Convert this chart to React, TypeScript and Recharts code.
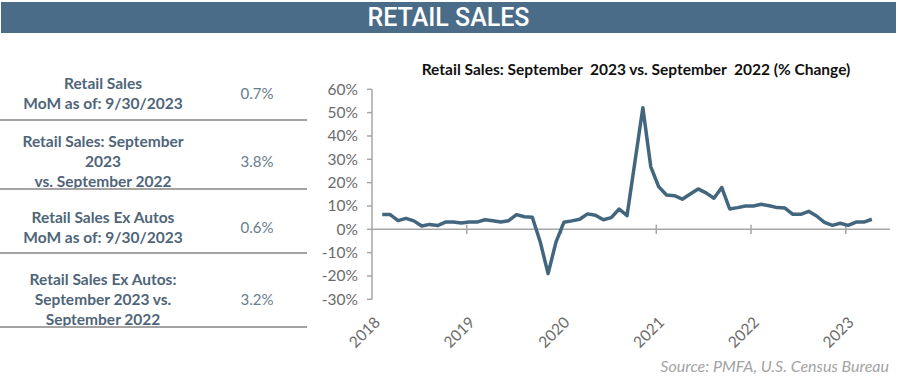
import React from 'react';
import { LineChart, Line, XAxis, YAxis, ReferenceLine } from 'recharts';

// Monthly YoY % change in retail sales, Jul 2018 - Sep 2023
const months = [
  'Jul-18','Aug-18','Sep-18','Oct-18','Nov-18','Dec-18',
  'Jan-19','Feb-19','Mar-19','Apr-19','May-19','Jun-19','Jul-19','Aug-19','Sep-19','Oct-19','Nov-19','Dec-19',
  'Jan-20','Feb-20','Mar-20','Apr-20','May-20','Jun-20','Jul-20','Aug-20','Sep-20','Oct-20','Nov-20','Dec-20',
  'Jan-21','Feb-21','Mar-21','Apr-21','May-21','Jun-21','Jul-21','Aug-21','Sep-21','Oct-21','Nov-21','Dec-21',
  'Jan-22','Feb-22','Mar-22','Apr-22','May-22','Jun-22','Jul-22','Aug-22','Sep-22','Oct-22','Nov-22','Dec-22',
  'Jan-23','Feb-23','Mar-23','Apr-23','May-23','Jun-23','Jul-23','Aug-23','Sep-23',
];
const yoyChange = [
  6.3, 6.3, 3.7, 4.7, 3.6, 1.4,
  2.1, 1.6, 3.1, 3.1, 2.7, 3.1, 3.1, 4.1, 3.7, 3.1, 3.7, 6.3,
  5.4, 5.2, -5.3, -19.0, -5.5, 3.0, 3.6, 4.3, 6.6, 6.0, 4.1, 5.0,
  8.7, 5.9, 29.0, 52.1, 26.9, 18.3, 14.7, 14.4, 12.9, 15.1, 17.3, 15.6,
  13.3, 17.9, 8.7, 9.3, 10.0, 10.0, 10.7, 10.1, 9.3, 9.1, 6.4, 6.4,
  7.7, 5.7, 3.0, 1.7, 2.6, 1.7, 3.1, 3.1, 4.3,
];
const yearLabels = ['2018', '2019', '2020', '2021', '2022', '2023'];
const yearTickPositions = [-1.3, 10.7, 22.7, 34.7, 46.7, 58.7];
const yTicks = [-30, -20, -10, 0, 10, 20, 30, 40, 50, 60];

const tableLabels = [
  ['Retail Sales', 'MoM as of: 9/30/2023'],
  ['Retail Sales: September', '2023', 'vs. September 2022'],
  ['Retail Sales Ex Autos', 'MoM as of: 9/30/2023'],
  ['Retail Sales Ex Autos:', 'September 2023 vs.', 'September 2022'],
];
const tableValues = ['0.7%', '3.8%', '0.6%', '3.2%'];

const data = yoyChange.map((v, i) => ({ idx: i, month: months[i], value: v }));

const rowCenters = [92.5, 161, 227, 299];
const separators = [119.5, 188.5, 253, 327];

const XTick = (props: any) => {
  const { x, y, payload } = props;
  const k = yearTickPositions.indexOf(payload.value);
  const label = k >= 0 ? yearLabels[k] : '';
  const ax = x + 9;
  const ay = y + 24;
  return (
    <text
      x={ax}
      y={ay}
      transform={`rotate(-45, ${ax}, ${ay})`}
      textAnchor="end"
      fill="#6b6b6b"
      fontSize={15.5}
      fontFamily="Lato"
    >
      {label}
    </text>
  );
};

export default function App() {
  return (
    <div style={{ position: 'absolute', left: 0, top: 0, width: 898, height: 379, background: '#fff', fontFamily: 'Lato' }}>
      <div
        style={{
          position: 'absolute', left: 1, top: 2, width: 895, height: 31,
          background: '#4a6c88', color: '#fff', textAlign: 'center',
          fontFamily: 'Roboto', fontWeight: 500, fontSize: 25, lineHeight: '31px',
        }}
      >
        RETAIL SALES
      </div>

      {tableLabels.map((lines, r) => (
        <div
          key={'l' + r}
          style={{
            position: 'absolute', left: 0, width: 206, top: rowCenters[r] - (lines.length * 20) / 2,
            textAlign: 'center', fontWeight: 700, fontSize: 15.5, lineHeight: '20px', color: '#4f6579',
          }}
        >
          {lines.map((t, j) => (<div key={j}>{t}</div>))}
        </div>
      ))}
      {tableValues.map((v, r) => (
        <div
          key={'v' + r}
          style={{
            position: 'absolute', left: 217, width: 80, top: rowCenters[r] - 10,
            textAlign: 'center', fontSize: 15, lineHeight: '20px', color: '#687c8e',
          }}
        >
          {v}
        </div>
      ))}
      {separators.map((s, r) => (
        <div key={'s' + r} style={{ position: 'absolute', left: 0, width: 307, top: s - 1, height: 2, background: '#a4a4a4' }} />
      ))}

      <div
        style={{
          position: 'absolute', left: 336, width: 600, top: 59, textAlign: 'center',
          fontWeight: 700, fontSize: 15.5, lineHeight: '20px', color: '#111', whiteSpace: 'pre',
        }}
      >
        {'Retail Sales: September  2023 vs. September  2022 (% Change)'}
      </div>

      <div style={{ position: 'absolute', left: 0, top: 0 }}>
        <LineChart
          width={898}
          height={379}
          data={data}
          margin={{ top: 89.3, right: 8, bottom: 49.7, left: 312 }}
        >
          <XAxis
            dataKey="idx"
            type="number"
            domain={[-1.3, 64.3]}
            ticks={yearTickPositions}
            interval={0}
            axisLine={false}
            tickLine={false}
            tickSize={0}
            tickMargin={0}
            height={30}
            tick={<XTick />}
            allowDataOverflow
          />
          <YAxis
            type="number"
            domain={[-30, 60]}
            ticks={yTicks}
            interval={0}
            width={60}
            tickFormatter={(v: number) => `${v}%`}
            axisLine={{ stroke: '#a6a6a6', strokeWidth: 1.5 }}
            tickLine={{ stroke: '#a6a6a6', strokeWidth: 1.5 }}
            tickSize={5}
            tickMargin={9}
            tick={{ fill: '#6b6b6b', fontSize: 15.5, fontFamily: 'Lato' }}
            allowDataOverflow
          />
          <ReferenceLine y={0} stroke="#a6a6a6" strokeWidth={1.5} />
          {yearTickPositions.slice(1).map((t) => (
            <ReferenceLine
              key={t}
              segment={[{ x: t, y: 2 }, { x: t, y: -2 }]}
              stroke="#a6a6a6"
              strokeWidth={1.5}
            />
          ))}
          <Line
            type="linear"
            dataKey="value"
            stroke="#43667f"
            strokeWidth={3.5}
            dot={false}
            strokeLinejoin="round"
            isAnimationActive={false}
          />
        </LineChart>
      </div>

      <div
        style={{
          position: 'absolute', left: 600, width: 289, top: 356, textAlign: 'right',
          fontStyle: 'italic', fontSize: 16, lineHeight: '20px', color: '#a3a3a3',
        }}
      >
        Source: PMFA, U.S. Census Bureau
      </div>
    </div>
  );
}
